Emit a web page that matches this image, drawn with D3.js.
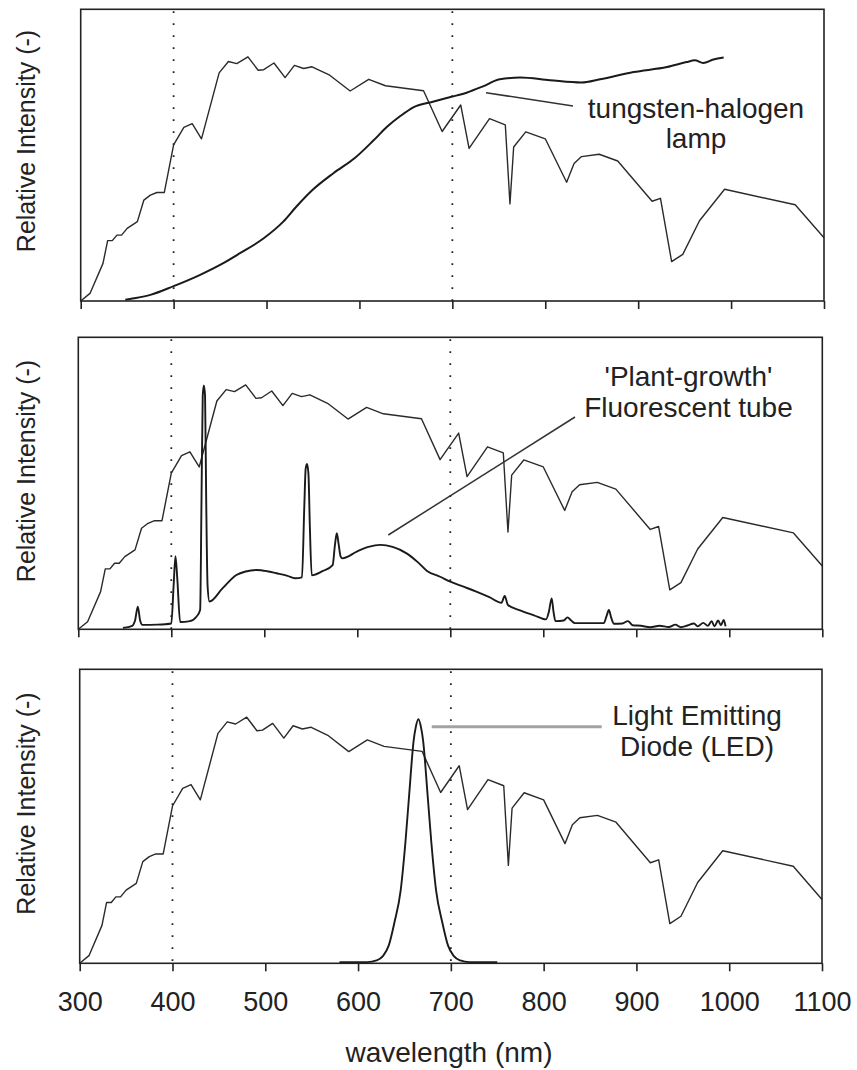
<!DOCTYPE html>
<html>
<head>
<meta charset="utf-8">
<script src="https://cdn.jsdelivr.net/npm/d3@7/dist/d3.min.js"></script>
<style>
  html, body { margin: 0; padding: 0; background: #fff; }
  svg { display: block; }
  text { font-family: "Liberation Sans", Arial, sans-serif; fill: #222; }
</style>
</head>
<body>
<svg id="chart" width="857" height="1070"></svg>
<script>
// Wavelength axis
const wavelengthTicks = [300, 400, 500, 600, 700, 800, 900, 1000, 1100];
const markerWavelengths = [400, 700];

// Solar spectrum (relative), shared by all three panels
const solarWl  = [300, 310, 324, 329, 334, 339, 344, 350, 361, 368, 375, 382, 390, 400, 411, 420, 430, 449, 459, 468, 480, 491, 497, 508, 520, 530, 540, 549, 568, 590, 610, 628, 669, 689, 709, 718, 740, 757, 762, 766, 779, 800, 823, 831, 839, 858, 878, 915, 924, 936, 948, 966, 993, 1069, 1100];
const solarVal = [0.0, 0.026, 0.129, 0.207, 0.207, 0.226, 0.226, 0.249, 0.272, 0.346, 0.363, 0.372, 0.372, 0.535, 0.595, 0.608, 0.556, 0.782, 0.821, 0.814, 0.837, 0.791, 0.793, 0.816, 0.766, 0.808, 0.797, 0.803, 0.774, 0.720, 0.760, 0.738, 0.721, 0.581, 0.672, 0.523, 0.625, 0.604, 0.333, 0.528, 0.580, 0.556, 0.407, 0.471, 0.495, 0.503, 0.480, 0.342, 0.352, 0.135, 0.160, 0.275, 0.383, 0.330, 0.217];

// Tungsten-halogen lamp
const tungstenWl  = [348, 353, 375, 400, 428, 453, 471, 497, 518, 532, 550, 572, 595, 615, 630, 644, 658, 680, 699, 716, 733, 751, 773, 805, 839, 859, 895, 931, 952, 961, 970, 981, 992];
const tungstenVal = [0.004, 0.007, 0.021, 0.051, 0.089, 0.129, 0.163, 0.215, 0.272, 0.323, 0.382, 0.438, 0.49, 0.55, 0.598, 0.634, 0.664, 0.684, 0.700, 0.715, 0.736, 0.760, 0.766, 0.757, 0.749, 0.760, 0.785, 0.802, 0.819, 0.825, 0.816, 0.828, 0.835];

// 'Plant-growth' fluorescent tube
const fluorWl  = [348, 358, 361, 364, 366.5, 369, 385, 400, 402.5, 404.5, 406.5, 409.5, 420, 427, 431, 432.5, 433.8, 435, 436.3, 437.5, 439, 441, 455, 470, 480, 492, 503, 513, 525, 533, 540.5, 543, 544.5, 546, 547.5, 549, 551, 563, 573.5, 576, 578, 580, 582, 584, 600, 612, 625, 638, 653, 665, 675, 689, 700, 715, 728, 742, 755, 758.5, 762, 775, 790, 803, 806, 809, 811, 813, 822, 826, 830, 834, 850, 865, 868, 870.5, 873, 876, 885, 891, 896, 905, 915, 925, 935, 942, 948, 955, 962, 966, 972, 977, 981, 984, 988, 991, 994, 996];
const fluorVal = [0.005, 0.012, 0.03, 0.077, 0.03, 0.015, 0.016, 0.02, 0.15, 0.25, 0.17, 0.025, 0.028, 0.043, 0.066, 0.45, 0.8, 0.835, 0.8, 0.45, 0.15, 0.095, 0.14, 0.186, 0.198, 0.203, 0.199, 0.192, 0.183, 0.175, 0.178, 0.42, 0.55, 0.566, 0.53, 0.35, 0.185, 0.2, 0.22, 0.29, 0.329, 0.29, 0.25, 0.243, 0.267, 0.282, 0.289, 0.282, 0.26, 0.23, 0.2, 0.18, 0.163, 0.145, 0.129, 0.11, 0.091, 0.114, 0.083, 0.065, 0.048, 0.034, 0.06, 0.106, 0.06, 0.028, 0.03, 0.041, 0.03, 0.021, 0.021, 0.021, 0.045, 0.066, 0.04, 0.019, 0.02, 0.028, 0.014, 0.012, 0.007, 0.012, 0.008, 0.016, 0.007, 0.013, 0.02, 0.01, 0.022, 0.012, 0.028, 0.01, 0.03, 0.014, 0.032, 0.01];

// Light emitting diode
const ledWl  = [580, 600, 610, 620, 627, 633, 639, 646, 651, 655, 660, 662, 665, 668, 670, 675, 679, 684, 691, 697, 703, 710, 720, 750];
const ledVal = [0.004, 0.004, 0.004, 0.01, 0.025, 0.06, 0.136, 0.25, 0.41, 0.57, 0.76, 0.80, 0.83, 0.80, 0.76, 0.57, 0.41, 0.25, 0.136, 0.06, 0.025, 0.01, 0.004, 0.004];

const yLabel = "Relative Intensity (-)";
const xTitle = "wavelength (nm)";

const zip = (xs, ys) => xs.map((x, i) => [x, ys[i]]);

// Panel layout
const panels = [
  { x0: 80.7, x1: 824, top: 9.3, bottom: 301, labelY: 141,
    lamp: { data: zip(tungstenWl, tungstenVal), width: 2 },
    note: { lines: ["tungsten-halogen", "lamp"], cx: 696, y: 118, lh: 30 },
    leader: { x1: 486, y1: 92.7, x2: 573, y2: 106, color: "#333", width: 1.5 } },
  { x0: 78.3, x1: 822.3, top: 337.3, bottom: 629.3, labelY: 471,
    lamp: { data: zip(fluorWl, fluorVal), width: 1.9 },
    note: { lines: ["'Plant-growth'", "Fluorescent tube"], cx: 688.5, y: 386, lh: 31 },
    leader: { x1: 388.3, y1: 535, x2: 575, y2: 417, color: "#333", width: 1.5 } },
  { x0: 79.7, x1: 822, top: 669.3, bottom: 963.3, labelY: 803.5, labelled: true,
    lamp: { data: zip(ledWl, ledVal), width: 1.9 },
    note: { lines: ["Light Emitting", "Diode (LED)"], cx: 697, y: 725, lh: 31 },
    leader: { x1: 431.7, y1: 726.7, x2: 601.7, y2: 726.7, color: "#a3a3a3", width: 3 } }
];

const svg = d3.select("#chart");
svg.append("rect").attr("width", 857).attr("height", 1070).attr("fill", "#fff");

const solar = zip(solarWl, solarVal);

panels.forEach(p => {
  const x = d3.scaleLinear().domain([300, 1100]).range([p.x0, p.x1]);
  const y = d3.scaleLinear().domain([0, 1]).range([p.bottom, p.top]);
  const g = svg.append("g");

  // vertical dotted guides at 400 and 700 nm
  g.selectAll("line.guide").data(markerWavelengths).join("line")
    .attr("class", "guide")
    .attr("x1", d => x(d)).attr("x2", d => x(d))
    .attr("y1", p.top + 2).attr("y2", p.bottom)
    .attr("stroke", "#222").attr("stroke-width", 1.8)
    .attr("stroke-dasharray", "1.8 10.2");

  // bottom axis ticks (labels only on the last panel)
  const axis = d3.axisBottom(x).tickValues(wavelengthTicks).tickSize(8)
    .tickFormat(p.labelled ? d3.format("d") : () => "");
  const ax = g.append("g").attr("transform", `translate(0,${p.bottom})`).call(axis);
  ax.select(".domain").remove();
  ax.selectAll(".tick line").attr("stroke", "#222").attr("stroke-width", 1.6);
  ax.selectAll(".tick text")
    .attr("y", 48).attr("dy", null)
    .attr("font-size", 27).attr("fill", "#222")
    .attr("font-family", "Liberation Sans, Arial, sans-serif");

  // solar spectrum
  const linear = d3.line().x(d => x(d[0])).y(d => y(d[1]));
  g.append("path").datum(solar).attr("d", linear)
    .attr("fill", "none").attr("stroke", "#2a2a2a").attr("stroke-width", 1.4)
    .attr("stroke-linejoin", "round");

  // lamp spectrum
  const smooth = d3.line().x(d => x(d[0])).y(d => y(d[1])).curve(d3.curveMonotoneX);
  g.append("path").datum(p.lamp.data).attr("d", smooth)
    .attr("fill", "none").attr("stroke", "#1a1a1a").attr("stroke-width", p.lamp.width)
    .attr("stroke-linejoin", "round");

  // frame
  g.append("rect")
    .attr("x", p.x0).attr("y", p.top)
    .attr("width", p.x1 - p.x0).attr("height", p.bottom - p.top)
    .attr("fill", "none").attr("stroke", "#222").attr("stroke-width", 1.6);

  // annotation
  g.append("line")
    .attr("x1", p.leader.x1).attr("y1", p.leader.y1)
    .attr("x2", p.leader.x2).attr("y2", p.leader.y2)
    .attr("stroke", p.leader.color).attr("stroke-width", p.leader.width);
  g.selectAll("text.note").data(p.note.lines).join("text")
    .attr("class", "note")
    .attr("x", p.note.cx).attr("y", (d, i) => p.note.y + i * p.note.lh)
    .attr("text-anchor", "middle").attr("font-size", 28)
    .text(d => d);

  // y label
  g.append("text")
    .attr("transform", `translate(35,${p.labelY}) rotate(-90)`)
    .attr("text-anchor", "middle").attr("font-size", 25)
    .text(yLabel);
});

svg.append("text")
  .attr("x", 449).attr("y", 1062)
  .attr("text-anchor", "middle").attr("font-size", 28)
  .text(xTitle);
</script>
</body>
</html>
